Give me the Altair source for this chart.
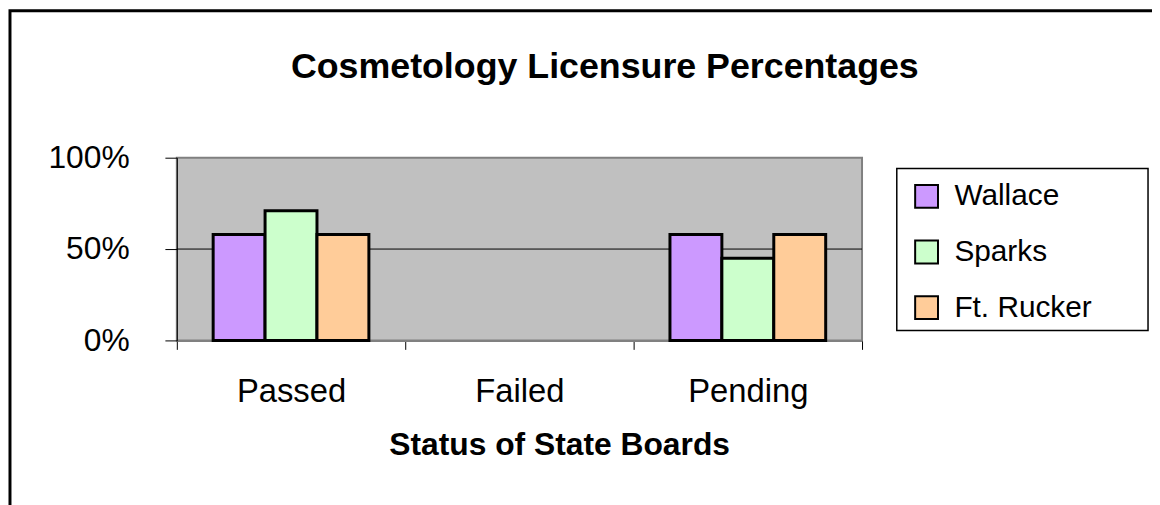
import altair as alt
import pandas as pd

statuses = ["Passed", "Failed", "Pending"]
campuses = ["Wallace", "Sparks", "Ft. Rucker"]
wallace = [0.58, 0.0, 0.58]
sparks = [0.71, 0.0, 0.45]
ft_rucker = [0.58, 0.0, 0.58]
colors = ["#CC99FF", "#CCFFCC", "#FFCC99"]
y_ticks = [0, 0.5, 1]
chart_title = "Cosmetology Licensure Percentages"
x_title = "Status of State Boards"

rows = []
for campus, vals in zip(campuses, [wallace, sparks, ft_rucker]):
    for s, v in zip(statuses, vals):
        rows.append({"Status": s, "Campus": campus, "Value": v})
df = pd.DataFrame(rows)

FONT = "Liberation Sans"

x_enc = alt.X(
    "Status:N",
    sort=statuses,
    scale=alt.Scale(domain=statuses, paddingInner=0, paddingOuter=0),
    axis=alt.Axis(
        title=x_title, labelAngle=0, labelFont=FONT, labelFontSize=33, labelColor="black",
        labelPadding=53, labelBaseline="alphabetic",
        domainColor="#808080", domainWidth=2, tickColor="black", tickWidth=1, tickSize=9,
        tickBand="extent",
        titleFont=FONT, titleFontSize=32, titleFontWeight="bold", titleColor="black",
        titleX=385, titleY=115, titleBaseline="alphabetic", titleAlign="center",
    ),
)
y_enc = alt.Y(
    "Value:Q",
    scale=alt.Scale(domain=[0, 1]),
    axis=alt.Axis(
        values=y_ticks, format=".0%", title=None, grid=False,
        labelFont=FONT, labelFontSize=32, labelColor="black", labelPadding=36,
        domainColor="black", domainWidth=1, tickColor="black", tickSize=12,
    ),
)

grid_rule = alt.Chart(pd.DataFrame({"Value": [0.5]})).mark_rule(
    color="black", strokeWidth=1
).encode(y=alt.Y("Value:Q"))

bars = alt.Chart(df).transform_filter("datum.Value > 0").mark_bar(
    stroke="black", strokeWidth=3, opacity=1
).encode(
    x=x_enc,
    xOffset=alt.XOffset("Campus:N", sort=campuses,
                        scale=alt.Scale(domain=campuses, paddingInner=0, paddingOuter=0.7)),
    y=y_enc,
    color=alt.Color(
        "Campus:N",
        scale=alt.Scale(domain=campuses, range=colors),
        legend=alt.Legend(
            title=None, orient="none", legendX=740, legendY=24,
            labelFont=FONT, labelFontSize=30, labelColor="black", labelOffset=13,
            symbolType="square", symbolSize=529, symbolStrokeColor="black",
            symbolStrokeWidth=2, symbolOpacity=1, rowPadding=24, padding=0,
        ),
    ),
)

one = pd.DataFrame({"t": [chart_title]})

title_text = alt.Chart(one).mark_text(
    font=FONT, fontSize=36, fontWeight="bold", color="black",
    align="center", baseline="alphabetic"
).encode(text="t:N", x=alt.value(431), y=alt.value(-80))

legend_box = alt.Chart(one).mark_rect(
    fillOpacity=0, stroke="black", strokeWidth=1.5
).encode(x=alt.value(725), x2=alt.value(978), y=alt.value(11), y2=alt.value(174))

frame = alt.Chart(one).mark_rect(
    fillOpacity=0, stroke="black", strokeWidth=3
).encode(x=alt.value(-168), x2=alt.value(1300), y=alt.value(-148), y2=alt.value(500))

chart = alt.layer(frame, legend_box, grid_rule, bars, title_text).properties(
    width=690,
    height=184,
    autosize=alt.AutoSizeParams(type="none"),
    padding={"left": 170, "top": 149, "right": 292, "bottom": 164},
    background="white",
).configure_view(
    fill="#C0C0C0", stroke="#808080", strokeWidth=2
)

chart.save("out.html", embed_options={"renderer": "svg", "actions": False})
